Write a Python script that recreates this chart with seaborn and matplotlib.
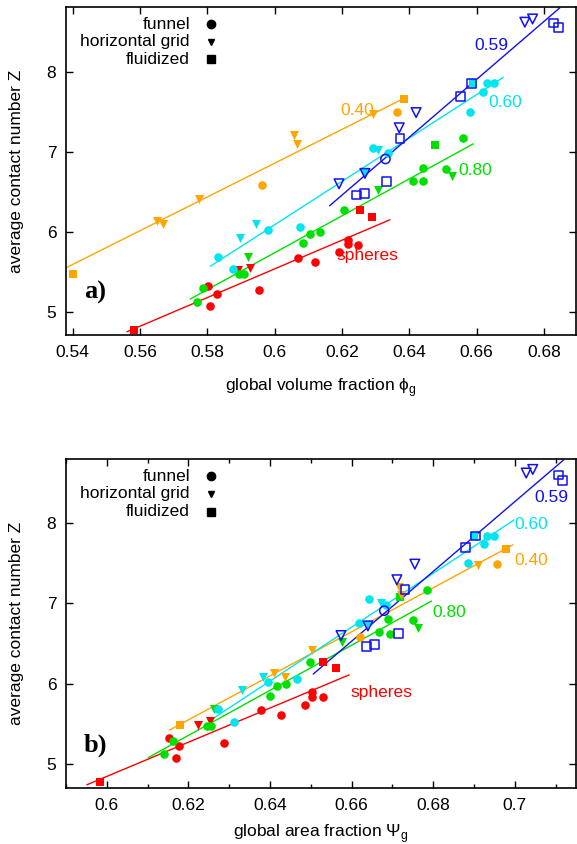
import numpy as np
import pandas as pd
import matplotlib
matplotlib.use("Agg")
import matplotlib.pyplot as plt
import seaborn as sns
from matplotlib.ticker import MultipleLocator, FormatStrFormatter

sns.set_theme(style="ticks")
plt.rcParams["font.family"] = ["Liberation Sans", "DejaVu Sans"]
plt.rcParams.update({
    "axes.edgecolor": "black", "axes.labelcolor": "black", "text.color": "black",
    "xtick.color": "black", "ytick.color": "black",
})

# ---------------------------------------------------------------- data
# method codes: f = funnel, g = horizontal grid, s = fluidized
GROUPS = ["spheres", "0.80", "0.40", "0.60", "0.59"]
COLORS = {"spheres": "#FF0000", "0.80": "#00E000", "0.40": "#FFA500",
          "0.60": "#00E5F0", "0.59": "#1010F0"}

# panel a) -- global volume fraction phi_g
A_RED_X = [0.5803, 0.5830, 0.5807, 0.5954, 0.6068, 0.6120, 0.6217, 0.6217, 0.6247, 0.6192,
           0.5892, 0.5927, 0.5583, 0.6253, 0.6288]
A_RED_Y = [5.325, 5.22, 5.075, 5.27, 5.67, 5.62, 5.90, 5.85, 5.84, 5.75,
           5.525, 5.55, 4.775, 6.275, 6.19]
A_RED_M = list("ffffffffff") + list("gg") + list("sss")

A_GREEN_X = [0.5769, 0.5787, 0.5895, 0.5910, 0.6085, 0.6105, 0.6135, 0.6206, 0.6412, 0.6440,
             0.6440, 0.6509, 0.6558, 0.5920, 0.6308, 0.6527, 0.6476]
A_GREEN_Y = [5.12, 5.30, 5.47, 5.475, 5.86, 5.97, 6.00, 6.275, 6.64, 6.64,
             6.80, 6.79, 7.17, 5.68, 6.525, 6.70, 7.09]
A_GREEN_M = list("fffffffffffff") + list("ggg") + list("s")

A_ORANGE_X = [0.5962, 0.6364, 0.5650, 0.5668, 0.5774, 0.6058, 0.6066, 0.6293, 0.5400, 0.6384]
A_ORANGE_Y = [6.58, 7.50, 6.13, 6.10, 6.41, 7.21, 7.10, 7.475, 5.47, 7.66]
A_ORANGE_M = list("ff") + list("gggggg") + list("ss")

A_CYAN_X = [0.5831, 0.5876, 0.5981, 0.6074, 0.6293, 0.6338, 0.6580, 0.6619, 0.6632, 0.6651,
            0.5896, 0.5945, 0.6308, 0.6264, 0.6590]
A_CYAN_Y = [5.68, 5.53, 6.025, 6.06, 7.05, 6.98, 7.50, 7.75, 7.86, 7.86,
            5.92, 6.10, 7.025, 6.75, 7.86]
A_CYAN_M = list("ffffffffff") + list("gggg") + list("s")

A_BLUE_X = [0.6329, 0.6191, 0.6268, 0.6370, 0.6420, 0.6743, 0.6766,
            0.6242, 0.6266, 0.6331, 0.6372, 0.6553, 0.6585, 0.6829, 0.6843]
A_BLUE_Y = [6.91, 6.60, 6.73, 7.30, 7.49, 8.62, 8.66,
            6.46, 6.48, 6.63, 7.17, 7.69, 7.85, 8.61, 8.55]
A_BLUE_M = list("f") + list("gggggg") + list("ssssssss")

# linear fits, given by their end points
A_FIT_X = {"spheres": [0.5561, 0.6342], "0.80": [0.5749, 0.6590], "0.40": [0.5380, 0.6380],
           "0.60": [0.5809, 0.6679], "0.59": [0.6163, 0.6847]}
A_FIT_Y = {"spheres": [4.75, 6.15], "0.80": [5.16, 7.10], "0.40": [5.55, 7.66],
           "0.60": [5.57, 7.93], "0.59": [6.325, 8.80]}

# panel b) -- global area fraction Psi_g
B_RED_X = [0.6153, 0.6178, 0.6170, 0.6288, 0.6377, 0.6427, 0.6485, 0.6504, 0.6504, 0.6529,
           0.6223, 0.6253, 0.5984, 0.6530, 0.6561]
B_RED_Y = [5.32, 5.22, 5.07, 5.26, 5.67, 5.61, 5.74, 5.895, 5.84, 5.83,
           5.49, 5.53, 4.77, 6.27, 6.20]
B_RED_M = list("ffffffffff") + list("gg") + list("sss")

B_GREEN_X = [0.6141, 0.6162, 0.6245, 0.6255, 0.6401, 0.6416, 0.6439, 0.6499, 0.6667, 0.6690,
             0.6695, 0.6751, 0.6786, 0.6263, 0.6577, 0.6763, 0.6718]
B_GREEN_Y = [5.12, 5.29, 5.47, 5.47, 5.85, 5.97, 5.99, 6.27, 6.64, 6.80,
             6.625, 6.79, 7.17, 5.69, 6.52, 6.70, 7.08]
B_GREEN_M = list("fffffffffffff") + list("ggg") + list("s")

B_ORANGE_X = [0.6620, 0.6956, 0.6410, 0.6437, 0.6503, 0.6715, 0.6722, 0.6910, 0.6179, 0.6978]
B_ORANGE_Y = [6.58, 7.495, 6.13, 6.08, 6.42, 7.21, 7.10, 7.48, 5.48, 7.675]
B_ORANGE_M = list("ff") + list("gggggg") + list("ss")

B_CYAN_X = [0.6273, 0.6312, 0.6394, 0.6465, 0.6618, 0.6643, 0.6684, 0.6886, 0.6924, 0.6933,
            0.6948, 0.6332, 0.6382, 0.6673, 0.6640, 0.6900]
B_CYAN_Y = [5.69, 5.52, 6.02, 6.06, 6.76, 7.05, 6.98, 7.50, 7.74, 7.845,
            7.845, 5.925, 6.08, 7.01, 6.73, 7.84]
B_CYAN_M = list("fffffffffff") + list("gggg") + list("s")

B_BLUE_X = [0.6680, 0.6574, 0.6640, 0.6711, 0.6755, 0.7028, 0.7044,
            0.6637, 0.6657, 0.6714, 0.6731, 0.6880, 0.6904, 0.7108, 0.7116]
B_BLUE_Y = [6.91, 6.60, 6.72, 7.295, 7.49, 8.625, 8.67,
            6.46, 6.49, 6.625, 7.17, 7.695, 7.84, 8.60, 8.53]
B_BLUE_M = list("f") + list("gggggg") + list("ssssssss")

B_FIT_X = {"spheres": [0.5951, 0.6594], "0.80": [0.6102, 0.6796], "0.40": [0.6153, 0.6995],
           "0.60": [0.6253, 0.6998], "0.59": [0.6506, 0.7120]}
B_FIT_Y = {"spheres": [4.74, 6.11], "0.80": [5.08, 7.03], "0.40": [5.42, 7.73],
           "0.60": [5.54, 8.04], "0.59": [6.12, 8.79]}

Y_TICKS = [5, 6, 7, 8]


def frame(panel, parts):
    rows = []
    for grp, (xs, ys, ms) in parts.items():
        rows.append(pd.DataFrame({"panel": panel, "group": grp, "method": ms, "x": xs, "y": ys}))
    return pd.concat(rows, ignore_index=True)


df_a = frame("a", {"spheres": (A_RED_X, A_RED_Y, A_RED_M), "0.80": (A_GREEN_X, A_GREEN_Y, A_GREEN_M),
                   "0.40": (A_ORANGE_X, A_ORANGE_Y, A_ORANGE_M), "0.60": (A_CYAN_X, A_CYAN_Y, A_CYAN_M),
                   "0.59": (A_BLUE_X, A_BLUE_Y, A_BLUE_M)})
df_b = frame("b", {"spheres": (B_RED_X, B_RED_Y, B_RED_M), "0.80": (B_GREEN_X, B_GREEN_Y, B_GREEN_M),
                   "0.40": (B_ORANGE_X, B_ORANGE_Y, B_ORANGE_M), "0.60": (B_CYAN_X, B_CYAN_Y, B_CYAN_M),
                   "0.59": (B_BLUE_X, B_BLUE_Y, B_BLUE_M)})

MARKERS = {"f": "o", "g": "v", "s": "s"}
SIZES = {"f": 38, "g": 42, "s": 34}
METHOD_NAMES = {"f": "funnel", "g": "horizontal grid", "s": "fluidized"}
FS = 12.5


def draw_panel(ax, df, fit_x, fit_y, labels, tag):
    for grp in GROUPS:
        sns.lineplot(x=fit_x[grp], y=fit_y[grp], ax=ax, color=COLORS[grp],
                     linewidth=1.0, legend=False, zorder=2)
    for grp in GROUPS:
        col = COLORS[grp]
        hollow = grp == "0.59"
        for m in "fgs":
            sub = df[(df.group == grp) & (df.method == m)]
            if sub.empty:
                continue
            sns.scatterplot(data=sub, x="x", y="y", ax=ax, marker=MARKERS[m],
                            s=SIZES[m] + (6 if hollow else 0), color=col,
                            facecolor="none" if hollow else col, edgecolor=col,
                            linewidth=1.1 if hollow else 0, legend=False, zorder=3)
    for text, (lx, ly) in labels.items():
        ax.text(lx, ly, text, color=COLORS[text], fontsize=FS, ha="center", va="baseline")

    # method key, text right-aligned in front of the black symbol
    for i, m in enumerate("fgs"):
        yk = 0.948 - i * 0.054
        ax.text(0.243, yk, METHOD_NAMES[m], transform=ax.transAxes, ha="right",
                va="center", fontsize=FS)
        ax.plot([0.284], [yk], transform=ax.transAxes, marker=MARKERS[m], color="black",
                markersize={"f": 6, "g": 5, "s": 5.5}[m], linestyle="none", clip_on=False)

    ax.text(0.058, 0.13, tag, transform=ax.transAxes, fontsize=19, fontweight="bold",
            family="Liberation Serif", ha="center", va="center")

    ax.set_yticks(Y_TICKS)
    ax.set_yticklabels([str(v) for v in Y_TICKS])
    ax.tick_params(direction="in", top=True, right=True, length=5, width=1.0,
                   labelsize=FS, pad=7)
    for sp in ax.spines.values():
        sp.set_linewidth(1.2)
        sp.set_visible(True)
    ax.set_ylabel("average contact number Z", fontsize=FS)
    ax.yaxis.set_label_coords(-0.083, 0.5)


fig = plt.figure(figsize=(5.77, 8.44), dpi=100)
ax_a = fig.add_axes([66 / 577, 1 - 335 / 844, 510 / 577, 328 / 844])
ax_b = fig.add_axes([66 / 577, 1 - 788 / 844, 510 / 577, 329 / 844])

draw_panel(ax_a, df_a, A_FIT_X, A_FIT_Y,
           {"0.59": (0.6645, 8.275), "0.60": (0.6685, 7.5625), "0.40": (0.6246, 7.4625),
            "0.80": (0.6595, 6.7125), "spheres": (0.6276, 5.65)}, "a)")
ax_a.set_xlim(0.538, 0.6895)
ax_a.set_ylim(4.71, 8.81)
ax_a.xaxis.set_major_locator(MultipleLocator(0.02))
ax_a.xaxis.set_major_formatter(FormatStrFormatter("%g"))
ax_a.set_xlabel("global volume fraction ϕ$_\\mathregular{g}$", fontsize=FS)
ax_a.xaxis.set_label_coords(0.5, -0.125)

draw_panel(ax_b, df_b, B_FIT_X, B_FIT_Y,
           {"0.59": (0.7090, 8.27), "0.60": (0.7041, 7.925), "0.40": (0.7041, 7.48),
            "0.80": (0.6840, 6.825), "spheres": (0.6674, 5.83)}, "b)")
ax_b.set_xlim(0.59, 0.715)
ax_b.set_ylim(4.7, 8.8)
ax_b.xaxis.set_major_locator(MultipleLocator(0.02))
ax_b.xaxis.set_minor_locator(MultipleLocator(0.01))
ax_b.xaxis.set_major_formatter(FormatStrFormatter("%g"))
ax_b.tick_params(axis="x", which="minor", direction="in", top=True, length=3, width=1.0)
ax_b.set_xlabel("global area fraction Ψ$_\\mathregular{g}$", fontsize=FS)
ax_b.xaxis.set_label_coords(0.5, -0.105)

fig.savefig("out.png", dpi=100)
